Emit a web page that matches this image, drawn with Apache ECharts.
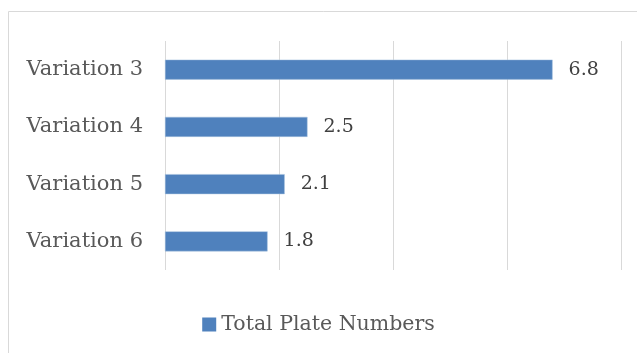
<!DOCTYPE html>
<html><head><meta charset="utf-8">
<script src="https://cdn.jsdelivr.net/npm/echarts@6/dist/echarts.min.js"></script>
<style>html,body{margin:0;padding:0;background:#fff}#c{width:637px;height:353px}</style>
</head><body><div id="c"></div>
<script>
const categories = ['Variation 3', 'Variation 4', 'Variation 5', 'Variation 6'];
const values = [6.8, 2.5, 2.1, 1.8];
const seriesName = 'Total Plate Numbers';
const chart = echarts.init(document.getElementById('c'));
const font = '"DejaVu Serif", "Liberation Serif", serif';
chart.setOption({
  animation: false,
  graphic: [{type:'rect', shape:{x:8.5, y:11.5, width:700, height:400}, style:{fill:'none', stroke:'#d9d9d9', lineWidth:1}}],
  grid: {left:165, right:16, top:41, bottom:83},
  legend: {bottom:13, left:'center', icon:'rect', itemWidth:14, itemHeight:14, itemGap:6,
    itemStyle:{borderWidth:0},
    textStyle:{fontFamily:font, fontSize:20.5, color:'#595959'}, data:[seriesName]},
  xAxis: {type:'value', min:0, max:8, interval:2, axisLabel:{show:false}, axisLine:{show:false}, axisTick:{show:false},
    splitLine:{lineStyle:{color:'#d9d9d9', width:1}}},
  yAxis: {type:'category', data:categories, inverse:true, axisLine:{show:false}, axisTick:{show:false},
    axisLabel:{fontFamily:font, fontSize:21, color:'#595959', margin:22}},
  series: [{name:seriesName, type:'bar', data:values, barWidth:20,
    itemStyle:{color:'#4F81BD', borderColor:'#a7c0de', borderWidth:0.5},
    label:{show:true, position:'right', distance:16, fontFamily:font, fontSize:19, color:'#404040'}}]
});
</script></body></html>
